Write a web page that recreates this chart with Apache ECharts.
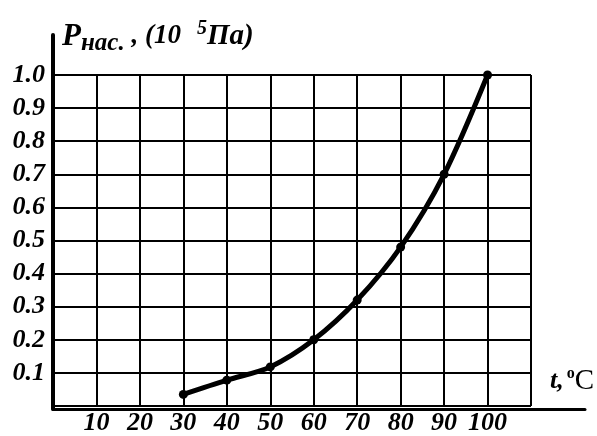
<!DOCTYPE html>
<html><head><meta charset="utf-8">
<script src="https://cdn.jsdelivr.net/npm/echarts@6/dist/echarts.min.js"></script>
<style>html,body{margin:0;padding:0;background:#fff}#c{width:597px;height:436px}</style>
</head><body><div id="c"></div>
<script>
const temps = [30, 40, 50, 60, 70, 80, 90, 100];
const pressures = [0.035, 0.078, 0.118, 0.2, 0.32, 0.48, 0.70, 1.0];
const xTickLabels = ['10','20','30','40','50','60','70','80','90','100'];
const yTickLabels = ['0.1','0.2','0.3','0.4','0.5','0.6','0.7','0.8','0.9','1.0'];

const FONT = '"Liberation Serif", "DejaVu Serif", serif';
const chart = echarts.init(document.getElementById('c'));
const lblStyle = {fontFamily: FONT, fontStyle: 'italic', fontWeight: 'bold', color: '#000'};

chart.setOption({
  animation: false,
  backgroundColor: '#fff',
  title: [
    {
      left: 57, top: 12,
      text: '{p|P}{s|нас.}{n| , (10}{sup|5}{n2|Па)}',
      textStyle: {
        rich: {
          p: Object.assign({fontSize: 31}, lblStyle),
          s: Object.assign({fontSize: 25, padding: [14, 0, 0, 0]}, lblStyle),
          n: Object.assign({fontSize: 27}, lblStyle),
          sup: Object.assign({fontSize: 20, padding: [0, 0, 16, 16]}, lblStyle),
          n2: Object.assign({fontSize: 29}, lblStyle)
        }
      }
    },
    {
      left: 545, top: 361,
      text: '{n|t,}{sup|o}{c|C}',
      textStyle: {
        rich: {
          n: Object.assign({fontSize: 26}, lblStyle),
          sup: Object.assign({fontSize: 16, padding: [0, 0, 14, 3]}, lblStyle, {fontStyle: 'normal'}),
          c: Object.assign({fontSize: 29}, lblStyle, {fontStyle: 'normal', fontWeight: 'normal'})
        }
      }
    }
  ],
  grid: [
    {left: 53, right: 12, top: 35, bottom: 27},
    {left: 53, right: 66, top: 75, bottom: 27}
  ],
  xAxis: [
    {gridIndex: 0, type: 'value', min: 0, max: 1,
     axisLine: {show: true, lineStyle: {color: '#000', width: 3}},
     axisTick: {show: false}, axisLabel: {show: false}, splitLine: {show: false}},
    {gridIndex: 1, type: 'value', min: 0, max: 110, interval: 10,
     axisLine: {show: false}, axisTick: {show: false},
     splitLine: {show: true, lineStyle: {color: '#000', width: 2}},
     axisLabel: Object.assign({fontSize: 26, margin: 4,
       formatter: v => (v > 0 && v <= 100) ? xTickLabels[v / 10 - 1] : ''}, lblStyle)}
  ],
  yAxis: [
    {gridIndex: 0, type: 'value', min: 0, max: 1,
     axisLine: {show: true, lineStyle: {color: '#000', width: 4}},
     axisTick: {show: false}, axisLabel: {show: false}, splitLine: {show: false}},
    {gridIndex: 1, type: 'value', min: 0, max: 1.0, interval: 0.1,
     axisLine: {show: false}, axisTick: {show: false},
     splitLine: {show: true, lineStyle: {color: '#000', width: 2}},
     axisLabel: Object.assign({fontSize: 26, margin: 8,
       formatter: v => { const i = Math.round(v * 10); return i >= 1 ? yTickLabels[i - 1] : ''; }}, lblStyle)}
  ],
  series: [{
    type: 'line', xAxisIndex: 1, yAxisIndex: 1,
    data: temps.map((t, i) => [t, pressures[i]]),
    smooth: 0.3,
    symbol: 'circle', symbolSize: 9,
    lineStyle: {color: '#000', width: 5},
    itemStyle: {color: '#000'}
  }]
});
</script></body></html>
